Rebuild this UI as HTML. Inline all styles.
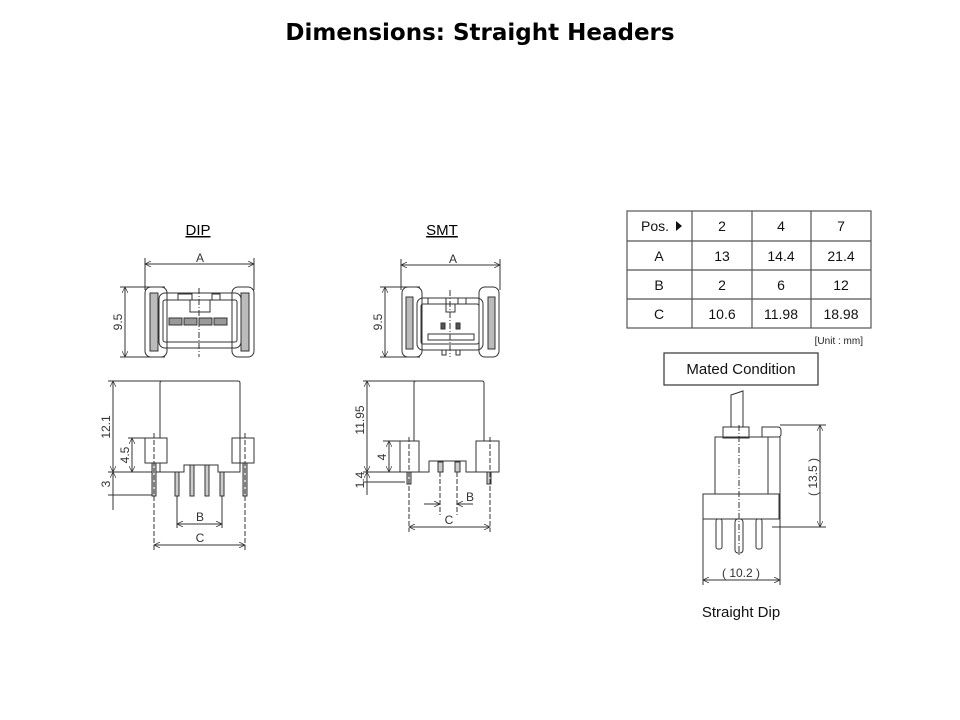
<!DOCTYPE html>
<html><head><meta charset="utf-8"><style>
html,body{margin:0;padding:0;background:#fff;}
body{width:960px;height:720px;overflow:hidden;position:relative;font-family:"Liberation Sans","DejaVu Sans",sans-serif;}
</style></head><body>
<svg width="960" height="720" viewBox="0 0 960 720" xmlns="http://www.w3.org/2000/svg" style="position:absolute;left:0;top:0">
<defs>
<marker id="ar" viewBox="0 0 10 10" refX="10" refY="5" markerWidth="9" markerHeight="6" orient="auto-start-reverse" markerUnits="userSpaceOnUse"><path d="M0,0 L10,5 L0,10" fill="none" stroke="#333" stroke-width="1.2"/></marker>
</defs>
<text x="480" y="40" text-anchor="middle" font-family="DejaVu Sans,sans-serif" font-weight="bold" font-size="23" fill="#000">Dimensions: Straight Headers</text>

<text x="198" y="235" text-anchor="middle" font-size="15" fill="#000" text-decoration="underline">DIP</text>
<text x="442" y="235" text-anchor="middle" font-size="15" fill="#000" text-decoration="underline">SMT</text>

<g stroke="#333" stroke-width="1" fill="none">
<!-- DIP top view -->
<line x1="145" y1="258" x2="145" y2="290"/><line x1="254" y1="258" x2="254" y2="290"/>
<line x1="145" y1="264" x2="254" y2="264" marker-start="url(#ar)" marker-end="url(#ar)"/>
<line x1="120" y1="287" x2="165" y2="287"/><line x1="120" y1="357" x2="165" y2="357"/>
<line x1="125" y1="287" x2="125" y2="357" marker-start="url(#ar)" marker-end="url(#ar)"/>
<rect x="145" y="287" width="22" height="70" rx="6"/>
<rect x="232" y="287" width="22" height="70" rx="6"/>
<rect x="150" y="293" width="8" height="58" fill="#bbb"/>
<rect x="241" y="293" width="8" height="58" fill="#bbb"/>
<rect x="159" y="293" width="82" height="55" rx="6"/>
<rect x="163" y="300" width="74" height="42" rx="2"/>
<rect x="178" y="294" width="14" height="6"/><rect x="212" y="294" width="8" height="6"/>
<rect x="190" y="300" width="20" height="12"/>
<rect x="169" y="318" width="13" height="7" fill="#999"/><rect x="184" y="318" width="13" height="7" fill="#999"/>
<rect x="199" y="318" width="13" height="7" fill="#999"/><rect x="214" y="318" width="13" height="7" fill="#999"/>
<line x1="199" y1="288" x2="199" y2="357" stroke-dasharray="6,2,1,2"/>

<!-- DIP side view -->
<line x1="108" y1="381" x2="165" y2="381"/>
<line x1="113" y1="381" x2="113" y2="472" marker-start="url(#ar)" marker-end="url(#ar)"/>
<line x1="128" y1="438" x2="146" y2="438"/>
<line x1="132" y1="438" x2="132" y2="472" marker-start="url(#ar)" marker-end="url(#ar)"/>
<line x1="108" y1="472" x2="160" y2="472"/>
<line x1="108" y1="495" x2="154" y2="495"/>
<line x1="113" y1="472" x2="113" y2="510" marker-start="url(#ar)"/>
<path d="M160,438 V383 Q160,381 162,381 H238 Q240,381 240,383 V472 H218 V465 H184 V472 H160 V463"/>
<rect x="145" y="438" width="22" height="25"/>
<rect x="232" y="438" width="22" height="25"/>
<g fill="#ccc"><rect x="152" y="463" width="4" height="33"/><rect x="243" y="463" width="4" height="33"/>
<rect x="175" y="472" width="4" height="24"/><rect x="190" y="465" width="4" height="31"/><rect x="205" y="465" width="4" height="31"/><rect x="220" y="472" width="4" height="24"/></g>
<line x1="154" y1="433" x2="154" y2="550" stroke-dasharray="5,2"/>
<line x1="245" y1="433" x2="245" y2="550" stroke-dasharray="5,2"/>
<line x1="177" y1="496" x2="177" y2="528"/><line x1="222" y1="496" x2="222" y2="528"/>
<line x1="177" y1="524" x2="222" y2="524" marker-start="url(#ar)" marker-end="url(#ar)"/>
<line x1="154" y1="545" x2="245" y2="545" marker-start="url(#ar)" marker-end="url(#ar)"/>

<!-- SMT top view -->
<line x1="401" y1="259" x2="401" y2="290"/><line x1="500" y1="259" x2="500" y2="290"/>
<line x1="401" y1="265" x2="500" y2="265" marker-start="url(#ar)" marker-end="url(#ar)"/>
<line x1="380" y1="287" x2="420" y2="287"/><line x1="380" y1="357" x2="420" y2="357"/>
<line x1="385" y1="287" x2="385" y2="357" marker-start="url(#ar)" marker-end="url(#ar)"/>
<rect x="402" y="287" width="20" height="70" rx="6"/>
<rect x="479" y="287" width="20" height="70" rx="6"/>
<rect x="406" y="297" width="7" height="52" fill="#bbb"/>
<rect x="488" y="297" width="7" height="52" fill="#bbb"/>
<rect x="417" y="298" width="66" height="52" rx="6"/>
<rect x="421" y="304" width="58" height="40" rx="2"/>
<rect x="428" y="298" width="18" height="6"/><rect x="458" y="298" width="8" height="6"/>
<rect x="446" y="304" width="9" height="8"/>
<rect x="441" y="323" width="4" height="6" fill="#555"/><rect x="456" y="323" width="4" height="6" fill="#555"/>
<rect x="428" y="334" width="46" height="6"/>
<rect x="442" y="350" width="4" height="5"/><rect x="456" y="350" width="4" height="5"/>
<line x1="450" y1="290" x2="450" y2="357" stroke-dasharray="6,2,1,2"/>

<!-- SMT side view -->
<line x1="363" y1="381" x2="420" y2="381"/>
<line x1="367" y1="381" x2="367" y2="472" marker-start="url(#ar)" marker-end="url(#ar)"/>
<line x1="383" y1="441" x2="401" y2="441"/>
<line x1="389" y1="441" x2="389" y2="472" marker-start="url(#ar)" marker-end="url(#ar)"/>
<line x1="363" y1="472" x2="420" y2="472"/>
<line x1="363" y1="482" x2="405" y2="482"/>
<line x1="367" y1="472" x2="367" y2="495" marker-start="url(#ar)"/>
<path d="M414,441 V383 Q414,381 416,381 H482 Q484,381 484,383 V441"/>
<path d="M419,472 H429 V461 H466 V472 H476"/>
<rect x="400" y="441" width="19" height="31"/>
<rect x="476" y="441" width="23" height="31"/>
<g fill="#ccc"><rect x="407" y="472" width="4" height="12"/><rect x="487" y="472" width="4" height="12"/>
<rect x="438" y="462" width="5" height="10"/><rect x="455" y="462" width="5" height="10"/></g>
<line x1="409" y1="437" x2="409" y2="532" stroke-dasharray="5,2"/>
<line x1="490" y1="437" x2="490" y2="532" stroke-dasharray="5,2"/>
<line x1="440" y1="472" x2="440" y2="515" stroke-dasharray="5,2"/><line x1="457" y1="472" x2="457" y2="515" stroke-dasharray="5,2"/>
<line x1="424" y1="504" x2="440" y2="504" marker-end="url(#ar)"/>
<line x1="473" y1="504" x2="457" y2="504" marker-end="url(#ar)"/>
<line x1="409" y1="527" x2="490" y2="527" marker-start="url(#ar)" marker-end="url(#ar)"/>

<!-- Mated -->
<path d="M731,427 V395 L743,391 V427"/>
<rect x="723" y="427" width="26" height="11"/>
<path d="M762,427 H778 Q781,427 781,431 V434 Q781,437 778,437 H762 Z"/>
<rect x="715" y="437" width="53" height="57"/>
<rect x="703" y="494" width="76" height="25"/>
<g fill="#fff"><rect x="716" y="519" width="6" height="30" rx="2"/><rect x="735" y="519" width="8" height="34" rx="3"/><rect x="756" y="519" width="6" height="30" rx="2"/></g>
<line x1="739" y1="425" x2="739" y2="555" stroke-dasharray="6,2,1,2"/>
<line x1="780" y1="425" x2="826" y2="425"/><line x1="772" y1="527" x2="826" y2="527"/>
<line x1="820" y1="425" x2="820" y2="527" marker-start="url(#ar)" marker-end="url(#ar)"/>
<line x1="703" y1="519" x2="703" y2="585"/><line x1="780" y1="437" x2="780" y2="585"/>
<line x1="703" y1="580" x2="780" y2="580" marker-start="url(#ar)" marker-end="url(#ar)"/>
</g>

<g font-family="Liberation Sans Narrow,Liberation Sans,sans-serif" font-size="12" fill="#333" text-anchor="middle">
<text x="200" y="262">A</text>
<text x="453" y="263">A</text>
<text transform="translate(122,322) rotate(-90)">9.5</text>
<text transform="translate(382,322) rotate(-90)">9.5</text>
<text transform="translate(110,427) rotate(-90)">12.1</text>
<text transform="translate(129,455) rotate(-90)">4.5</text>
<text transform="translate(110,484) rotate(-90)">3</text>
<text x="200" y="521">B</text>
<text x="200" y="542">C</text>
<text transform="translate(364,420) rotate(-90)">11.95</text>
<text transform="translate(386,457) rotate(-90)">4</text>
<text transform="translate(364,480) rotate(-90)">1.4</text>
<text x="470" y="501">B</text>
<text x="449" y="524">C</text>
<text transform="translate(817,477) rotate(-90)">( 13.5 )</text>
<text x="741" y="577">( 10.2 )</text>
</g>

<!-- table -->
<g stroke="#555" stroke-width="1.2" fill="none">
<rect x="627" y="211" width="244" height="117"/>
<line x1="627" y1="241" x2="871" y2="241"/><line x1="627" y1="270" x2="871" y2="270"/><line x1="627" y1="299" x2="871" y2="299"/>
<line x1="692" y1="211" x2="692" y2="328"/><line x1="752" y1="211" x2="752" y2="328"/><line x1="811" y1="211" x2="811" y2="328"/>
<rect x="664" y="353" width="154" height="32" stroke="#333"/>
</g>
<g font-size="14" fill="#111" text-anchor="middle">
<text x="655" y="231">Pos.</text><path d="M676,221 L682,226 L676,231 Z" fill="#111"/>
<text x="722" y="231">2</text><text x="781" y="231">4</text><text x="841" y="231">7</text>
<text x="659" y="261">A</text><text x="722" y="261">13</text><text x="781" y="261">14.4</text><text x="841" y="261">21.4</text>
<text x="659" y="290">B</text><text x="722" y="290">2</text><text x="781" y="290">6</text><text x="841" y="290">12</text>
<text x="659" y="319">C</text><text x="722" y="319">10.6</text><text x="781" y="319">11.98</text><text x="841" y="319">18.98</text>
</g>
<text x="863" y="344" text-anchor="end" font-size="10" fill="#222">[Unit : mm]</text>
<text x="741" y="374" text-anchor="middle" font-size="15" fill="#111">Mated Condition</text>
<text x="741" y="617" text-anchor="middle" font-size="15" fill="#111">Straight Dip</text>
</svg>
</body></html>
